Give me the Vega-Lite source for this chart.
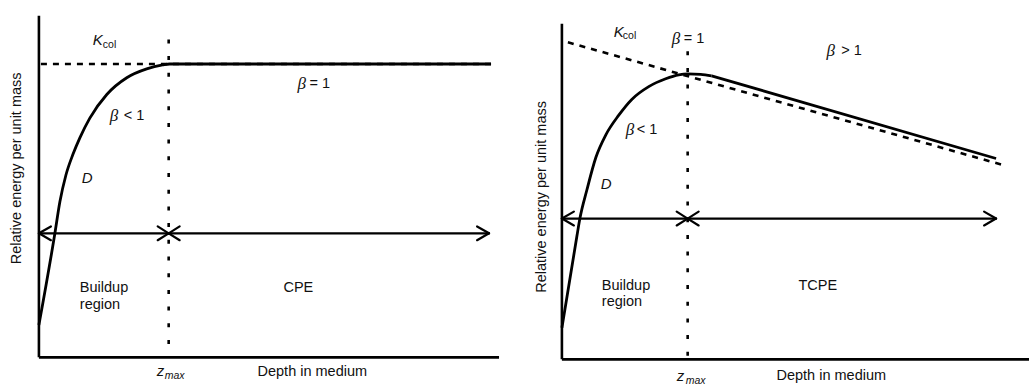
{
  "$schema": "https://vega.github.io/schema/vega-lite/v6.json",
  "autosize": {"type": "fit", "contains": "padding"},
  "width": 1031,
  "height": 387,
  "padding": 0,
  "background": "white",
  "config": {"view": {"stroke": null}},
  "datasets": {
    "segs": [
      {"x": 39, "y": 16, "x2": 39, "y2": 363, "k": "axis"},
      {"x": 39, "y": 363, "x2": 500, "y2": 363, "k": "axis"},
      {"x": 563, "y": 24, "x2": 563, "y2": 365, "k": "axis"},
      {"x": 563, "y": 365, "x2": 1031, "y2": 365, "k": "axis"},
      {"x": 41, "y": 65, "x2": 493, "y2": 65, "k": "dash"},
      {"x": 569, "y": 43, "x2": 1003, "y2": 167, "k": "dash"},
      {"x": 169, "y": 40, "x2": 169, "y2": 363, "k": "dot"},
      {"x": 689, "y": 52, "x2": 689, "y2": 365, "k": "dot"},
      {"x": 39, "y": 237, "x2": 490, "y2": 237, "k": "arrow"},
      {"x": 39, "y": 237, "x2": 51, "y2": 230, "k": "arrow"},
      {"x": 39, "y": 237, "x2": 51, "y2": 244, "k": "arrow"},
      {"x": 169, "y": 237, "x2": 158, "y2": 230, "k": "arrow"},
      {"x": 169, "y": 237, "x2": 158, "y2": 244, "k": "arrow"},
      {"x": 169, "y": 237, "x2": 180, "y2": 230, "k": "arrow"},
      {"x": 169, "y": 237, "x2": 180, "y2": 244, "k": "arrow"},
      {"x": 490, "y": 237, "x2": 478, "y2": 230, "k": "arrow"},
      {"x": 490, "y": 237, "x2": 478, "y2": 244, "k": "arrow"},
      {"x": 563, "y": 222, "x2": 998, "y2": 222, "k": "arrow"},
      {"x": 563, "y": 222, "x2": 575, "y2": 215, "k": "arrow"},
      {"x": 563, "y": 222, "x2": 575, "y2": 229, "k": "arrow"},
      {"x": 689, "y": 222, "x2": 678, "y2": 215, "k": "arrow"},
      {"x": 689, "y": 222, "x2": 678, "y2": 229, "k": "arrow"},
      {"x": 689, "y": 222, "x2": 700, "y2": 215, "k": "arrow"},
      {"x": 689, "y": 222, "x2": 700, "y2": 229, "k": "arrow"},
      {"x": 998, "y": 222, "x2": 986, "y2": 215, "k": "arrow"},
      {"x": 998, "y": 222, "x2": 986, "y2": 229, "k": "arrow"}
    ],
    "curves": [
      {"s": "L", "o": 1, "x": 39, "y": 330},
      {"s": "L", "o": 2, "x": 55, "y": 237},
      {"s": "L", "o": 3, "x": 60, "y": 205},
      {"s": "L", "o": 4, "x": 66, "y": 178},
      {"s": "L", "o": 5, "x": 73, "y": 157},
      {"s": "L", "o": 6, "x": 80, "y": 140},
      {"s": "L", "o": 7, "x": 90, "y": 120},
      {"s": "L", "o": 8, "x": 107, "y": 96},
      {"s": "L", "o": 9, "x": 127, "y": 79},
      {"s": "L", "o": 10, "x": 147, "y": 70},
      {"s": "L", "o": 11, "x": 163, "y": 66},
      {"s": "L", "o": 12, "x": 170, "y": 65},
      {"s": "L", "o": 13, "x": 492, "y": 65},
      {"s": "R", "o": 1, "x": 563, "y": 333},
      {"s": "R", "o": 2, "x": 578, "y": 240},
      {"s": "R", "o": 3, "x": 581, "y": 222},
      {"s": "R", "o": 4, "x": 588, "y": 193},
      {"s": "R", "o": 5, "x": 597, "y": 160},
      {"s": "R", "o": 6, "x": 607, "y": 137},
      {"s": "R", "o": 7, "x": 620, "y": 117},
      {"s": "R", "o": 8, "x": 633, "y": 101},
      {"s": "R", "o": 9, "x": 650, "y": 88},
      {"s": "R", "o": 10, "x": 667, "y": 80},
      {"s": "R", "o": 11, "x": 680, "y": 76},
      {"s": "R", "o": 12, "x": 689, "y": 75},
      {"s": "R", "o": 13, "x": 702, "y": 75.5},
      {"s": "R", "o": 14, "x": 713, "y": 77},
      {"s": "R2", "o": 1, "x": 713, "y": 77},
      {"s": "R2", "o": 2, "x": 998, "y": 161}
    ],
    "labels": [
      {"x": 80, "y": 293, "t": "Buildup", "s": "sans"},
      {"x": 80, "y": 310, "t": "region", "s": "sans"},
      {"x": 284, "y": 293, "t": "CPE", "s": "sans"},
      {"x": 258, "y": 378, "t": "Depth in medium", "s": "sans"},
      {"x": 603, "y": 290, "t": "Buildup", "s": "sans"},
      {"x": 603, "y": 307, "t": "region", "s": "sans"},
      {"x": 800, "y": 290, "t": "TCPE", "s": "sans"},
      {"x": 778, "y": 382, "t": "Depth in medium", "s": "sans"},
      {"x": 124, "y": 118, "t": "< 1", "s": "sans"},
      {"x": 310, "y": 85, "t": "= 1", "s": "sans"},
      {"x": 685, "y": 40, "t": "= 1", "s": "sans"},
      {"x": 638, "y": 132, "t": "< 1", "s": "sans"},
      {"x": 843, "y": 52, "t": "> 1", "s": "sans"},
      {"x": 93, "y": 41, "t": "K", "s": "isans"},
      {"x": 82, "y": 181, "t": "D", "s": "isans"},
      {"x": 615, "y": 32, "t": "K", "s": "isans"},
      {"x": 602, "y": 187, "t": "D", "s": "isans"},
      {"x": 157, "y": 377, "t": "z", "s": "isans"},
      {"x": 678, "y": 382, "t": "z", "s": "isans"},
      {"x": 103, "y": 46, "t": "col", "s": "sub"},
      {"x": 624, "y": 37, "t": "col", "s": "sub"},
      {"x": 165, "y": 382, "t": "max", "s": "isub"},
      {"x": 687, "y": 387, "t": "max", "s": "isub"},
      {"x": 110, "y": 118, "t": "β", "s": "beta"},
      {"x": 298, "y": 85, "t": "β", "s": "beta"},
      {"x": 673, "y": 40, "t": "β", "s": "beta"},
      {"x": 627, "y": 132, "t": "β", "s": "beta"},
      {"x": 828, "y": 52, "t": "β", "s": "beta"},
      {"x": 17, "y": 171, "t": "Relative energy per unit mass", "s": "ytitle"},
      {"x": 543, "y": 200, "t": "Relative energy per unit mass", "s": "ytitle"}
    ]
  },
  "encoding": {
    "x": {"field": "x", "type": "quantitative", "axis": null, "scale": {"domain": [0, 1031], "nice": false, "zero": false}},
    "y": {"field": "y", "type": "quantitative", "axis": null, "scale": {"domain": [0, 387], "nice": false, "zero": false, "reverse": true}}
  },
  "layer": [
    {
      "data": {"name": "segs"},
      "transform": [{"filter": "datum.k === 'axis'"}],
      "mark": {"type": "rule", "color": "#000", "strokeWidth": 2.6},
      "encoding": {"x2": {"field": "x2"}, "y2": {"field": "y2"}}
    },
    {
      "data": {"name": "segs"},
      "transform": [{"filter": "datum.k === 'dash'"}],
      "mark": {"type": "rule", "color": "#000", "strokeWidth": 2.6, "strokeDash": [6, 6]},
      "encoding": {"x2": {"field": "x2"}, "y2": {"field": "y2"}}
    },
    {
      "data": {"name": "segs"},
      "transform": [{"filter": "datum.k === 'dot'"}],
      "mark": {"type": "rule", "color": "#000", "strokeWidth": 2.6, "strokeDash": [4, 12.7]},
      "encoding": {"x2": {"field": "x2"}, "y2": {"field": "y2"}}
    },
    {
      "data": {"name": "segs"},
      "transform": [{"filter": "datum.k === 'arrow'"}],
      "mark": {"type": "rule", "color": "#000", "strokeWidth": 2.2, "strokeCap": "round"},
      "encoding": {"x2": {"field": "x2"}, "y2": {"field": "y2"}}
    },
    {
      "data": {"name": "curves"},
      "mark": {"type": "line", "color": "#000", "strokeWidth": 2.8, "interpolate": "monotone"},
      "encoding": {"detail": {"field": "s"}, "order": {"field": "o", "type": "quantitative"}}
    },
    {
      "data": {"name": "labels"},
      "transform": [{"filter": "datum.s === 'sans'"}],
      "mark": {"type": "text", "align": "left", "baseline": "middle", "font": "Liberation Sans", "fontSize": 14.5, "color": "#111"},
      "encoding": {"text": {"field": "t"}}
    },
    {
      "data": {"name": "labels"},
      "transform": [{"filter": "datum.s === 'isans'"}],
      "mark": {"type": "text", "align": "left", "baseline": "middle", "font": "Liberation Sans", "fontStyle": "italic", "fontSize": 15, "color": "#111"},
      "encoding": {"text": {"field": "t"}}
    },
    {
      "data": {"name": "labels"},
      "transform": [{"filter": "datum.s === 'sub'"}],
      "mark": {"type": "text", "align": "left", "baseline": "middle", "font": "Liberation Sans", "fontSize": 10.5, "color": "#111"},
      "encoding": {"text": {"field": "t"}}
    },
    {
      "data": {"name": "labels"},
      "transform": [{"filter": "datum.s === 'isub'"}],
      "mark": {"type": "text", "align": "left", "baseline": "middle", "font": "Liberation Sans", "fontStyle": "italic", "fontSize": 10.5, "color": "#111"},
      "encoding": {"text": {"field": "t"}}
    },
    {
      "data": {"name": "labels"},
      "transform": [{"filter": "datum.s === 'beta'"}],
      "mark": {"type": "text", "align": "left", "baseline": "middle", "font": "Liberation Serif", "fontStyle": "italic", "fontSize": 17, "color": "#111"},
      "encoding": {"text": {"field": "t"}}
    },
    {
      "data": {"name": "labels"},
      "transform": [{"filter": "datum.s === 'ytitle'"}],
      "mark": {"type": "text", "align": "center", "baseline": "middle", "angle": 270, "font": "Liberation Sans", "fontSize": 14.5, "color": "#111"},
      "encoding": {"text": {"field": "t"}}
    }
  ]
}
